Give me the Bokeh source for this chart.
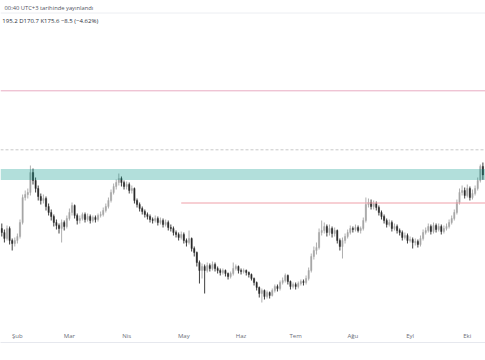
from bokeh.plotting import figure
from bokeh.models import Range1d, FixedTicker, Span, BoxAnnotation, ColumnDataSource
from bokeh.core.properties import value
from bokeh.embed import file_html
from bokeh.resources import INLINE

# ---- data ----
first_open = 122
closes = [118, 112, 122, 110, 107, 110, 114, 128, 153, 156,
          158, 178, 170, 162, 154, 150, 152, 144, 138, 134,
          128, 125, 122, 128, 124, 132, 138, 145, 135, 130,
          132, 136, 131, 134, 130, 133, 131, 135, 136, 140,
          144, 150, 158, 164, 168, 172, 168, 164, 166, 160,
          162, 150, 146, 142, 139, 136, 134, 131, 130, 132,
          128, 130, 126, 128, 123, 122, 118, 116, 113, 116,
          110, 108, 112, 102, 98, 88, 80, 84, 80, 85,
          82, 86, 82, 80, 78, 80, 77, 74, 77, 82,
          84, 80, 79, 80, 78, 76, 72, 68, 63, 57,
          60, 54, 58, 55, 60, 64, 62, 68, 70, 75,
          69, 64, 66, 64, 67, 69, 68, 72, 80, 94,
          100, 103, 118, 120, 124, 118, 122, 117, 120, 110,
          104, 110, 114, 118, 122, 121, 123, 120, 122, 130,
          146, 148, 144, 147, 143, 138, 134, 130, 126, 128,
          122, 124, 120, 118, 113, 115, 110, 111, 108, 109,
          106, 112, 118, 120, 124, 119, 125, 121, 124, 119,
          122, 124, 128, 132, 138, 148, 158, 160, 155, 162,
          153, 157, 162, 170, 184.1, 175.6]
highs = [127, 121, 125, 124, 112, 113, 117, 131, 156, 160,
         162, 185, 182, 173, 165, 157, 156, 154, 147, 141,
         136, 131, 127, 131, 130, 135, 142, 148, 146, 137,
         135, 138, 138, 137, 136, 135, 135, 137, 139, 143,
         147, 153, 161, 167, 171, 177, 174, 170, 169, 168,
         165, 163, 152, 148, 144, 141, 138, 136, 133, 135,
         134, 133, 132, 131, 130, 126, 124, 120, 118, 119,
         118, 112, 120, 113, 104, 99, 90, 87, 86, 88,
         87, 89, 88, 84, 82, 82, 81, 78, 79, 88,
         86, 85, 82, 82, 81, 79, 77, 73, 69, 64,
         62, 61, 60, 59, 62, 66, 66, 70, 73, 77,
         76, 70, 68, 68, 69, 71, 71, 75, 83, 97,
         104, 108, 122, 130, 128, 126, 126, 124, 123, 121,
         112, 113, 117, 121, 125, 124, 126, 125, 124, 133,
         153, 152, 151, 150, 149, 145, 140, 136, 132, 131,
         130, 127, 126, 122, 120, 118, 117, 114, 113, 112,
         111, 115, 121, 123, 127, 126, 128, 127, 127, 126,
         125, 127, 131, 135, 141, 151, 162, 165, 163, 166,
         164, 161, 165, 173, 186, 188]
lows = [114, 108, 110, 106, 100, 104, 107, 112, 126, 150,
        152, 155, 166, 158, 150, 146, 147, 140, 135, 130,
        124, 121, 117, 108, 120, 122, 130, 135, 132, 126,
        127, 130, 128, 129, 127, 128, 128, 129, 133, 134,
        138, 142, 148, 156, 161, 165, 164, 161, 161, 157,
        157, 147, 143, 139, 136, 133, 131, 128, 127, 128,
        125, 126, 123, 124, 120, 119, 115, 113, 110, 111,
        107, 104, 106, 99, 94, 84, 67, 72, 57, 78,
        79, 80, 79, 77, 75, 76, 74, 71, 72, 75,
        80, 77, 76, 77, 75, 73, 70, 65, 60, 53,
        48, 51, 52, 52, 54, 58, 59, 60, 66, 68,
        66, 61, 62, 61, 62, 65, 65, 66, 70, 78,
        91, 96, 101, 115, 117, 114, 115, 113, 114, 107,
        100, 92, 107, 112, 116, 118, 119, 118, 117, 120,
        128, 143, 141, 141, 140, 135, 131, 127, 123, 124,
        119, 120, 117, 115, 110, 111, 107, 108, 102, 105,
        103, 104, 110, 116, 118, 116, 117, 118, 119, 116,
        117, 120, 122, 126, 130, 136, 146, 155, 152, 153,
        150, 151, 155, 160, 168, 170.7]

month_ticks = [6, 26, 48, 70, 92, 113, 135, 157, 179]
month_labels = ["Şub", "Mar", "Nis", "May", "Haz", "Tem", "Ağu", "Eyl", "Eki"]

upper_line = 259.7
dashed_line = 200.7
zone_bottom = 170.5
zone_top = 181.5
support_line = 147.5
support_start = 69

header_line1 = "00:40 UTC+3 tarihinde yayınlandı"
header_line2 = "195.2  D170.7  K175.6  −8.5 (−4.62%)"

# ---- derived ----
idx = list(range(len(closes)))
opens = [first_open] + closes[:-1]
UP, DOWN = "#a6a6a6", "#2a2a2a"
colors = [UP if c >= o else DOWN for o, c in zip(opens, closes)]
src = ColumnDataSource(dict(
    x=idx, o=opens, c=closes, h=highs, l=lows,
    top=[max(o, c) for o, c in zip(opens, closes)],
    bot=[min(o, c) for o, c in zip(opens, closes)],
    col=colors))

p = figure(width=485, height=360, output_backend="svg", toolbar_location=None,
           x_range=Range1d(-0.5, 186.0), y_range=Range1d(8, 350),
           y_axis_location=None, min_border=0, min_border_bottom=18)
p.grid.visible = False
p.outline_line_color = None
p.background_fill_color = "white"
p.border_fill_color = "white"

ax = p.xaxis[0]
ax.ticker = FixedTicker(ticks=month_ticks)
ax.major_label_overrides = {t: l for t, l in zip(month_ticks, month_labels)}
ax.major_tick_line_color = None
ax.minor_tick_line_color = None
ax.major_tick_out = 0
ax.major_tick_in = 0
ax.axis_line_color = "#e6e8ee"
ax.major_label_text_font = "Open Sans"
ax.major_label_text_font_size = "6px"
ax.major_label_text_color = "#6a6d78"
ax.major_label_standoff = -11

# drawings
p.add_layout(Span(location=337.5, dimension="width", line_color="#eceef2", line_width=1))
p.add_layout(Span(location=upper_line, dimension="width", line_color="#e8acc2", line_width=1))
p.add_layout(Span(location=dashed_line, dimension="width", line_color="#c8c8c8",
                  line_width=1, line_dash="3 2"))

# candles
p.segment(x0="x", y0="l", x1="x", y1="h", line_color="col", line_width=0.9, source=src)
p.vbar(x="x", width=0.5, top="top", bottom="bot", fill_color="col", line_color="col",
       line_width=0.4, source=src)

p.segment(x0=[support_start], y0=[support_line], x1=[186], y1=[support_line],
          line_color="#ef9fa8", line_width=1)
p.add_layout(BoxAnnotation(bottom=zone_bottom, top=zone_top, fill_color="#009688",
                           fill_alpha=0.3, line_color=None))

# header texts
p.text(x=[1.04], y=[342.7], text=[header_line1], text_font=value("Open Sans"),
       text_font_size="5.8px", text_color="#50535e", text_baseline="middle", text_align="left")
p.text(x=[0.2], y=[329.3], text=[header_line2], text_font=value("Open Sans"),
       text_font_size="6px", text_color="#2a2e39", text_baseline="middle", text_align="left")

open("out.html", "w").write(file_html(p, INLINE))
